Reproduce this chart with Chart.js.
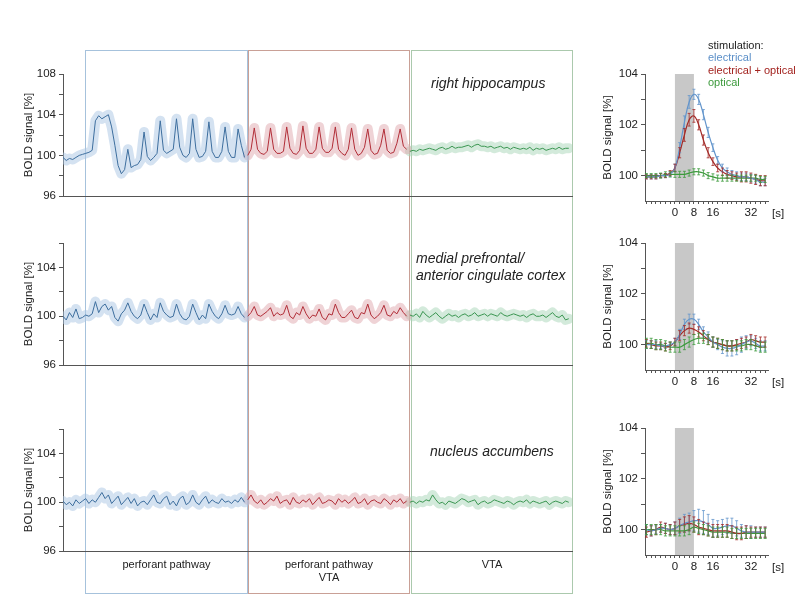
<!DOCTYPE html>
<html>
<head>
<meta charset="utf-8">
<script src="https://cdn.jsdelivr.net/npm/chart.js@4.4.0/dist/chart.umd.min.js"></script>
<style>
  body { margin: 0; background: #fff; font-family: "Liberation Sans", Arial, sans-serif; }
  #wrap { position: relative; width: 800px; height: 611px; overflow: hidden; }
  .box { position: absolute; top: 50px; height: 544px; border: 1px solid; box-sizing: border-box; }
  .c { position: absolute; }
  .lab { position: absolute; font-size: 11px; line-height: 13px; color: #222; text-align: center; white-space: nowrap; }
  .it { position: absolute; font-style: italic; font-size: 14px; line-height: 17px; color: #222; white-space: nowrap; }
  .leg { position: absolute; left: 708px; top: 39px; font-size: 11px; line-height: 12.3px; white-space: nowrap; }
  .sec { position: absolute; left: 772px; font-size: 11.5px; color: #222; line-height: 14px; }
</style>
</head>
<body>
<div id="wrap">
  <div class="box" style="left:85px;width:163px;border-color:#a6c2dc"></div>
  <div class="box" style="left:248px;width:162px;border-color:#c9a096"></div>
  <div class="box" style="left:411px;width:162px;border-color:#abc9ad"></div>

  <div class="c" style="left:18px;top:64px;width:558px;height:142px"><canvas id="l1"></canvas></div>
  <div class="c" style="left:18px;top:233px;width:558px;height:142px"><canvas id="l2"></canvas></div>
  <div class="c" style="left:18px;top:419px;width:558px;height:142px"><canvas id="l3"></canvas></div>

  <div class="c" style="left:597px;top:64px;width:177px;height:161px"><canvas id="r1"></canvas></div>
  <div class="c" style="left:597px;top:233px;width:177px;height:161px"><canvas id="r2"></canvas></div>
  <div class="c" style="left:597px;top:418px;width:177px;height:161px"><canvas id="r3"></canvas></div>

  <div class="it" style="left:431px;top:75px">right hippocampus</div>
  <div class="it" style="left:416px;top:250px">medial prefrontal/<br>anterior cingulate cortex</div>
  <div class="it" style="left:430px;top:443px">nucleus accumbens</div>

  <div class="lab" style="left:85px;top:558px;width:163px">perforant pathway</div>
  <div class="lab" style="left:248px;top:558px;width:162px">perforant pathway<br>VTA</div>
  <div class="lab" style="left:411px;top:558px;width:162px">VTA</div>

  <div class="leg">
    <div style="color:#222">stimulation:</div>
    <div style="color:#5b8fc8">electrical</div>
    <div style="color:#a3231f">electrical + optical</div>
    <div style="color:#3c9a3c">optical</div>
  </div>

  <div class="sec" style="top:206px">[s]</div>
  <div class="sec" style="top:375px">[s]</div>
  <div class="sec" style="top:560px">[s]</div>
</div>

<script>
// ---- time series (one value per sample), blue = electrical, red = electrical + optical, green = optical
const segStart = [0, 57, 107];

const hipElec = [99.8, 99.5, 99.7, 99.6, 99.8, 100.0, 100.1, 100.2, 100.3, 100.5, 103.4, 103.9, 103.6, 103.8, 104.0, 102.8, 101.0, 99.0, 98.2, 98.6,
  100.6, 98.8, 99.0, 99.1, 99.6, 102.3, 99.9, 99.5, 99.8, 100.2, 103.4, 100.5, 100.2, 100.4, 100.6, 103.6, 100.8, 100.0, 99.8, 100.2,
  103.6, 100.6, 99.8, 99.9, 100.4, 103.3, 100.4, 99.8, 99.8, 100.4, 102.8, 100.4, 99.8, 99.8, 102.6, 101.0, 99.8];
const hipComb = [100.0, 100.6, 102.7, 100.6, 100.2, 100.1, 100.4, 102.7, 100.6, 100.2, 100.2, 100.4, 102.8, 100.7, 100.2,
  100.1, 100.5, 102.9, 100.7, 100.2, 100.2, 100.6, 102.8, 100.7, 100.3, 100.3, 100.7, 102.8, 100.6, 100.2,
  100.0, 100.6, 102.7, 100.6, 100.0, 100.2, 100.8, 102.6, 100.5, 100.1, 100.2, 101.0, 102.6, 100.5, 100.2,
  100.3, 101.2, 102.6, 100.9, 100.6];
const hipOpt = [100.4, 100.5, 100.4, 100.6, 100.5, 100.6, 100.7, 100.6, 100.5, 100.7, 100.8, 100.6, 100.7, 100.9, 100.7, 100.8, 100.8,
  100.9, 101.0, 100.8, 101.0, 101.1, 100.9, 100.9, 100.8, 100.9, 100.7, 100.8, 100.9, 100.7, 100.8, 100.6, 100.8, 100.7,
  100.6, 100.7, 100.6, 100.8, 100.5, 100.7, 100.6, 100.7, 100.5, 100.6, 100.7, 100.6, 100.8, 100.6, 100.7, 100.7];

const mpfcElec = [100.0, 99.7, 100.3, 99.9, 100.6, 99.8, 99.9, 100.1, 100.0, 100.2, 101.2, 100.3, 100.8, 101.0, 100.5, 100.8, 99.9, 99.6, 100.2, 100.5,
  101.1, 100.4, 100.0, 99.8, 100.1, 101.0, 100.3, 99.7, 100.2, 99.9, 101.1, 100.4, 100.1, 99.9, 100.0, 101.0, 100.2, 99.8, 99.7, 100.0,
  101.0, 100.3, 99.7, 100.1, 99.8, 101.0, 100.4, 100.0, 99.8, 100.2, 100.9, 100.2, 100.1, 100.2, 100.8, 100.2, 99.9];
const mpfcComb = [100.0, 100.3, 100.8, 100.1, 100.0, 100.2, 100.4, 100.7, 100.0, 100.3, 100.1, 100.2, 100.9, 100.0, 99.8, 100.3, 100.1,
  100.8, 100.2, 99.8, 100.1, 100.0, 100.6, 99.9, 99.7, 100.2, 100.1, 101.0, 100.3, 99.9, 99.9, 100.2, 100.5, 99.9, 99.8, 100.3, 100.2,
  101.0, 100.1, 99.8, 100.0, 100.3, 100.9, 100.1, 100.0, 100.4, 100.2, 100.7, 100.3, 100.0];
const mpfcOpt = [100.1, 100.0, 100.2, 99.9, 100.4, 100.1, 99.9, 100.1, 100.3, 100.0, 99.8, 100.0, 100.2, 100.0, 100.1, 99.9, 100.1,
  100.2, 100.0, 100.1, 100.3, 100.0, 100.1, 100.2, 100.0, 100.2, 100.1, 100.0, 100.3, 100.1, 100.0, 100.1, 100.2, 100.1, 100.0,
  100.1, 99.9, 100.1, 100.2, 100.0, 100.0, 100.1, 99.9, 100.1, 100.3, 100.0, 99.9, 100.1, 99.7, 99.8];

const naccElec = [100.1, 99.8, 100.0, 99.7, 100.2, 99.9, 100.1, 100.3, 99.9, 100.2, 100.0, 100.4, 100.8, 100.3, 100.6, 99.9, 100.2, 100.5, 99.8,
  100.1, 100.4, 99.9, 100.3, 99.7, 100.0, 100.1, 99.8, 100.2, 100.6, 100.0, 99.9, 100.3, 100.5, 99.8, 100.1, 99.7, 100.3, 100.5, 99.8,
  100.0, 100.6, 100.0, 99.8, 100.2, 100.5, 99.9, 100.2, 100.0, 99.9, 100.3, 100.0, 100.1, 99.9, 100.2, 100.0, 100.4, 100.0];
const naccComb = [100.2, 100.6, 100.1, 99.9, 100.2, 99.8, 100.0, 100.3, 100.1, 100.5, 99.9, 100.1, 100.2, 99.8, 100.4, 100.0, 99.9,
  100.2, 100.0, 100.3, 99.8, 100.1, 100.4, 99.9, 100.0, 100.2, 100.1, 99.8, 100.3, 100.0, 100.2, 99.9, 100.1, 100.4, 99.9, 100.0,
  100.3, 99.8, 100.1, 100.2, 100.0, 99.9, 100.3, 100.1, 99.8, 100.2, 100.0, 100.3, 99.9, 100.1];
const naccOpt = [100.0, 100.1, 99.9, 100.1, 100.0, 100.2, 100.1, 100.6, 100.2, 99.9, 100.0, 99.8, 100.1, 100.0, 99.9, 100.1, 100.3,
  100.2, 100.0, 100.1, 100.2, 99.8, 100.0, 100.1, 99.9, 100.0, 100.2, 100.1, 100.0, 99.9, 100.1, 100.0, 99.8, 100.0, 100.1, 100.0,
  100.2, 99.9, 100.1, 100.0, 99.9, 100.0, 100.1, 99.8, 100.0, 100.1, 100.0, 99.9, 100.1, 100.0];

// ---- event-related responses
const respTime = [-12, -10, -8, -6, -4, -2, 0, 2, 4, 6, 8, 10, 12, 14, 16, 18, 20, 22, 24, 26, 28, 30, 32, 34, 36, 38];

const hipRespElec = [99.95, 99.95, 99.95, 100.0, 100.0, 100.05, 100.3, 101.1, 102.1, 102.9, 103.2, 103.0, 102.4, 101.7, 101.1, 100.6, 100.3, 100.15, 100.05, 100.0, 99.95, 99.95, 99.9, 99.85, 99.75, 99.75];
const hipRespElecErr = [0.08, 0.08, 0.08, 0.08, 0.08, 0.1, 0.15, 0.2, 0.25, 0.25, 0.2, 0.2, 0.2, 0.2, 0.15, 0.15, 0.15, 0.15, 0.15, 0.15, 0.15, 0.15, 0.15, 0.15, 0.15, 0.15];
const hipRespComb = [99.95, 99.95, 99.95, 100.0, 100.0, 100.1, 100.3, 100.9, 101.6, 102.2, 102.35, 102.0, 101.4, 100.9, 100.55, 100.3, 100.15, 100.05, 100.0, 99.95, 99.95, 99.95, 99.9, 99.85, 99.8, 99.8];
const hipRespCombErr = [0.08, 0.08, 0.08, 0.08, 0.08, 0.1, 0.15, 0.2, 0.25, 0.25, 0.25, 0.2, 0.2, 0.2, 0.15, 0.15, 0.15, 0.15, 0.15, 0.15, 0.2, 0.2, 0.2, 0.2, 0.2, 0.2];
const hipRespOpt = [100.0, 100.0, 100.0, 100.0, 100.05, 100.05, 100.05, 100.05, 100.05, 100.1, 100.15, 100.15, 100.1, 100.0, 99.95, 99.9, 99.9, 99.9, 99.9, 99.9, 99.9, 99.9, 99.9, 99.9, 99.85, 99.85];
const hipRespOptErr = [0.08, 0.08, 0.08, 0.1, 0.1, 0.1, 0.12, 0.12, 0.12, 0.12, 0.12, 0.12, 0.12, 0.12, 0.12, 0.12, 0.12, 0.12, 0.12, 0.12, 0.12, 0.12, 0.12, 0.12, 0.12, 0.12];

const mpfcRespElec = [100.0, 100.0, 100.0, 99.95, 99.95, 100.0, 100.1, 100.4, 100.8, 101.0, 101.0, 100.8, 100.5, 100.3, 100.1, 100.0, 99.9, 99.85, 99.85, 99.9, 100.0, 100.1, 100.15, 100.05, 99.95, 99.95];
const mpfcRespElecErr = [0.15, 0.15, 0.15, 0.1, 0.1, 0.1, 0.15, 0.2, 0.2, 0.2, 0.2, 0.2, 0.2, 0.2, 0.2, 0.2, 0.25, 0.3, 0.3, 0.3, 0.3, 0.25, 0.2, 0.2, 0.2, 0.2];
const mpfcRespComb = [100.05, 100.0, 99.95, 99.95, 99.9, 99.95, 100.1, 100.35, 100.55, 100.65, 100.6, 100.5, 100.35, 100.2, 100.1, 100.05, 100.0, 99.95, 99.95, 100.0, 100.05, 100.1, 100.2, 100.15, 100.1, 100.1];
const mpfcRespCombErr = [0.15, 0.15, 0.15, 0.15, 0.15, 0.15, 0.15, 0.2, 0.2, 0.2, 0.2, 0.2, 0.2, 0.2, 0.2, 0.2, 0.2, 0.2, 0.2, 0.2, 0.2, 0.2, 0.2, 0.2, 0.2, 0.2];
const mpfcRespOpt = [100.05, 100.05, 100.0, 100.0, 99.95, 99.9, 99.9, 99.9, 100.0, 100.1, 100.2, 100.25, 100.25, 100.2, 100.1, 100.05, 100.0, 99.95, 99.95, 99.95, 99.95, 100.0, 100.0, 99.95, 99.9, 99.9];
const mpfcRespOptErr = [0.2, 0.2, 0.2, 0.2, 0.2, 0.2, 0.2, 0.2, 0.2, 0.2, 0.2, 0.2, 0.2, 0.2, 0.2, 0.2, 0.2, 0.2, 0.2, 0.2, 0.2, 0.2, 0.2, 0.2, 0.2, 0.2];

const naccRespElec = [100.0, 99.95, 100.0, 100.05, 100.05, 100.0, 100.05, 100.15, 100.25, 100.3, 100.35, 100.35, 100.3, 100.2, 100.05, 100.05, 100.1, 100.15, 100.15, 100.05, 99.95, 99.9, 99.9, 99.9, 99.9, 99.9];
const naccRespElecErr = [0.2, 0.2, 0.15, 0.15, 0.2, 0.2, 0.25, 0.3, 0.35, 0.35, 0.4, 0.45, 0.45, 0.4, 0.35, 0.3, 0.3, 0.3, 0.3, 0.3, 0.25, 0.25, 0.25, 0.2, 0.2, 0.2];
const naccRespComb = [99.9, 99.95, 100.0, 100.1, 100.05, 100.0, 100.05, 100.15, 100.2, 100.25, 100.2, 100.1, 100.05, 100.0, 99.95, 99.95, 99.95, 99.95, 99.9, 99.85, 99.85, 99.9, 99.9, 99.9, 99.9, 99.9];
const naccRespCombErr = [0.2, 0.2, 0.2, 0.2, 0.2, 0.2, 0.25, 0.25, 0.3, 0.3, 0.3, 0.3, 0.25, 0.25, 0.25, 0.25, 0.25, 0.25, 0.25, 0.25, 0.25, 0.25, 0.2, 0.2, 0.2, 0.2];
const naccRespOpt = [100.0, 100.0, 100.0, 100.0, 99.95, 99.95, 99.95, 99.95, 99.95, 100.0, 100.1, 100.05, 100.0, 99.95, 99.9, 99.9, 99.9, 99.9, 99.85, 99.85, 99.85, 99.85, 99.85, 99.85, 99.85, 99.85];
const naccRespOptErr = [0.2, 0.2, 0.2, 0.2, 0.2, 0.2, 0.2, 0.2, 0.2, 0.2, 0.2, 0.2, 0.2, 0.2, 0.2, 0.2, 0.2, 0.2, 0.2, 0.2, 0.2, 0.2, 0.2, 0.2, 0.2, 0.2];

// ---- axis ticks
const yTicksTop = [96, 98, 100, 102, 104, 106, 108];
const yTicksLow = [96, 98, 100, 102, 104, 106];
const respYTicks = [100, 101, 102, 103, 104];
const respXLabels = [0, 8, 16, 32];
const stimOn = [0, 8];

const blue = { line: '#3d6e9e', band: 'rgba(170,198,228,0.5)' };
const red = { line: '#b12d37', band: 'rgba(224,168,174,0.5)' };
const green = { line: '#399550', band: 'rgba(168,214,184,0.5)' };
const respColors = ['#6395cc', '#a32a27', '#3c9a3c'];

const tickFont = { family: 'Liberation Sans', size: 11.5, weight: 'normal' };
const titleFont = { family: 'Liberation Sans', size: 11.5, weight: 'normal' };

const pts = (vals, start) => vals.map((v, i) => ({ x: start + i, y: v }));

const shadePlugin = {
  id: 'shade',
  beforeDatasetsDraw(chart, args, opts) {
    if (!opts.range) return;
    const { ctx, chartArea, scales } = chart;
    const x0 = scales.x.getPixelForValue(opts.range[0]);
    const x1 = scales.x.getPixelForValue(opts.range[1]);
    ctx.save();
    ctx.fillStyle = '#c8c8c8';
    ctx.fillRect(x0, chartArea.top, x1 - x0, chartArea.bottom - chartArea.top);
    ctx.restore();
  }
};

const errPlugin = {
  id: 'errbars',
  afterDatasetsDraw(chart) {
    const { ctx, scales: { x, y } } = chart;
    chart.data.datasets.forEach(ds => {
      if (!ds.err) return;
      ctx.save();
      ctx.strokeStyle = ds.borderColor;
      ctx.lineWidth = 0.8;
      ds.data.forEach((p, i) => {
        const px = x.getPixelForValue(p.x);
        const yt = y.getPixelForValue(p.y + ds.err[i]);
        const yb = y.getPixelForValue(p.y - ds.err[i]);
        ctx.beginPath();
        ctx.moveTo(px, yt); ctx.lineTo(px, yb);
        ctx.moveTo(px - 1.5, yt); ctx.lineTo(px + 1.5, yt);
        ctx.moveTo(px - 1.5, yb); ctx.lineTo(px + 1.5, yb);
        ctx.stroke();
      });
      ctx.restore();
    });
  }
};

function yAxis(min, max, ticks, labelFn, width) {
  return {
    min: min, max: max,
    afterBuildTicks: s => { s.ticks = ticks.map(v => ({ value: v })); },
    afterFit: s => { s.width = width; },
    ticks: { callback: labelFn, font: tickFont, color: '#222', padding: 3, autoSkip: false },
    grid: { drawOnChartArea: false, tickLength: 4, color: '#555' },
    border: { color: '#555' },
    title: { display: true, text: 'BOLD signal [%]', font: titleFont, color: '#222', padding: { top: 4, bottom: 4 } }
  };
}

function leftChart(id, yMax, yTicks, series) {
  const cols = [blue, red, green];
  const datasets = [];
  series.forEach((vals, k) => {
    datasets.push({ data: pts(vals, segStart[k]), borderColor: cols[k].line, borderWidth: 1, pointRadius: 0, order: 1 });
    datasets.push({ data: pts(vals, segStart[k]), borderColor: cols[k].band, borderWidth: 10, borderJoinStyle: 'round', borderCapStyle: 'round', pointRadius: 0, order: 2 });
  });
  new Chart(document.getElementById(id), {
    type: 'line',
    data: { datasets },
    options: {
      responsive: true, maintainAspectRatio: false, animation: false,
      layout: { padding: { top: 10, right: 4, bottom: 5, left: 0 } },
      plugins: { legend: { display: false }, tooltip: { enabled: false } },
      scales: {
        x: {
          type: 'linear', min: 0, max: 157,
          ticks: { display: false }, grid: { display: false },
          border: { color: '#555' },
          afterFit: s => { s.height = 0; }
        },
        y: yAxis(96, yMax, yTicks, v => (v % 4 === 0 ? v : ''), 45)
      }
    }
  });
}

function respChart(id, series, errs) {
  new Chart(document.getElementById(id), {
    type: 'line',
    data: {
      datasets: series.map((vals, k) => ({
        data: respTime.map((t, i) => ({ x: t, y: vals[i] })),
        err: errs[k],
        borderColor: respColors[k], borderWidth: 1.2, pointRadius: 0, tension: 0.4
      }))
    },
    plugins: [shadePlugin, errPlugin],
    options: {
      responsive: true, maintainAspectRatio: false, animation: false,
      layout: { padding: { top: 10, right: 6, bottom: 0, left: 0 } },
      plugins: { legend: { display: false }, tooltip: { enabled: false }, shade: { range: stimOn } },
      scales: {
        x: {
          type: 'linear', min: -12.6, max: 39.2,
          afterBuildTicks: s => { s.ticks = respTime.map(v => ({ value: v })); },
          afterFit: s => { s.height = 24; },
          ticks: { callback: v => (respXLabels.includes(v) ? v : ''), font: tickFont, color: '#222', padding: 2, autoSkip: false, maxRotation: 0 },
          grid: { drawOnChartArea: false, tickLength: 3, color: '#555' },
          border: { color: '#555' }
        },
        y: yAxis(99, 104, respYTicks, v => (v % 2 === 0 ? v : ''), 48)
      }
    }
  });
}

leftChart('l1', 108, yTicksTop, [hipElec, hipComb, hipOpt]);
leftChart('l2', 106, yTicksLow, [mpfcElec, mpfcComb, mpfcOpt]);
leftChart('l3', 106, yTicksLow, [naccElec, naccComb, naccOpt]);

respChart('r1', [hipRespElec, hipRespComb, hipRespOpt], [hipRespElecErr, hipRespCombErr, hipRespOptErr]);
respChart('r2', [mpfcRespElec, mpfcRespComb, mpfcRespOpt], [mpfcRespElecErr, mpfcRespCombErr, mpfcRespOptErr]);
respChart('r3', [naccRespElec, naccRespComb, naccRespOpt], [naccRespElecErr, naccRespCombErr, naccRespOptErr]);
</script>
</body>
</html>
